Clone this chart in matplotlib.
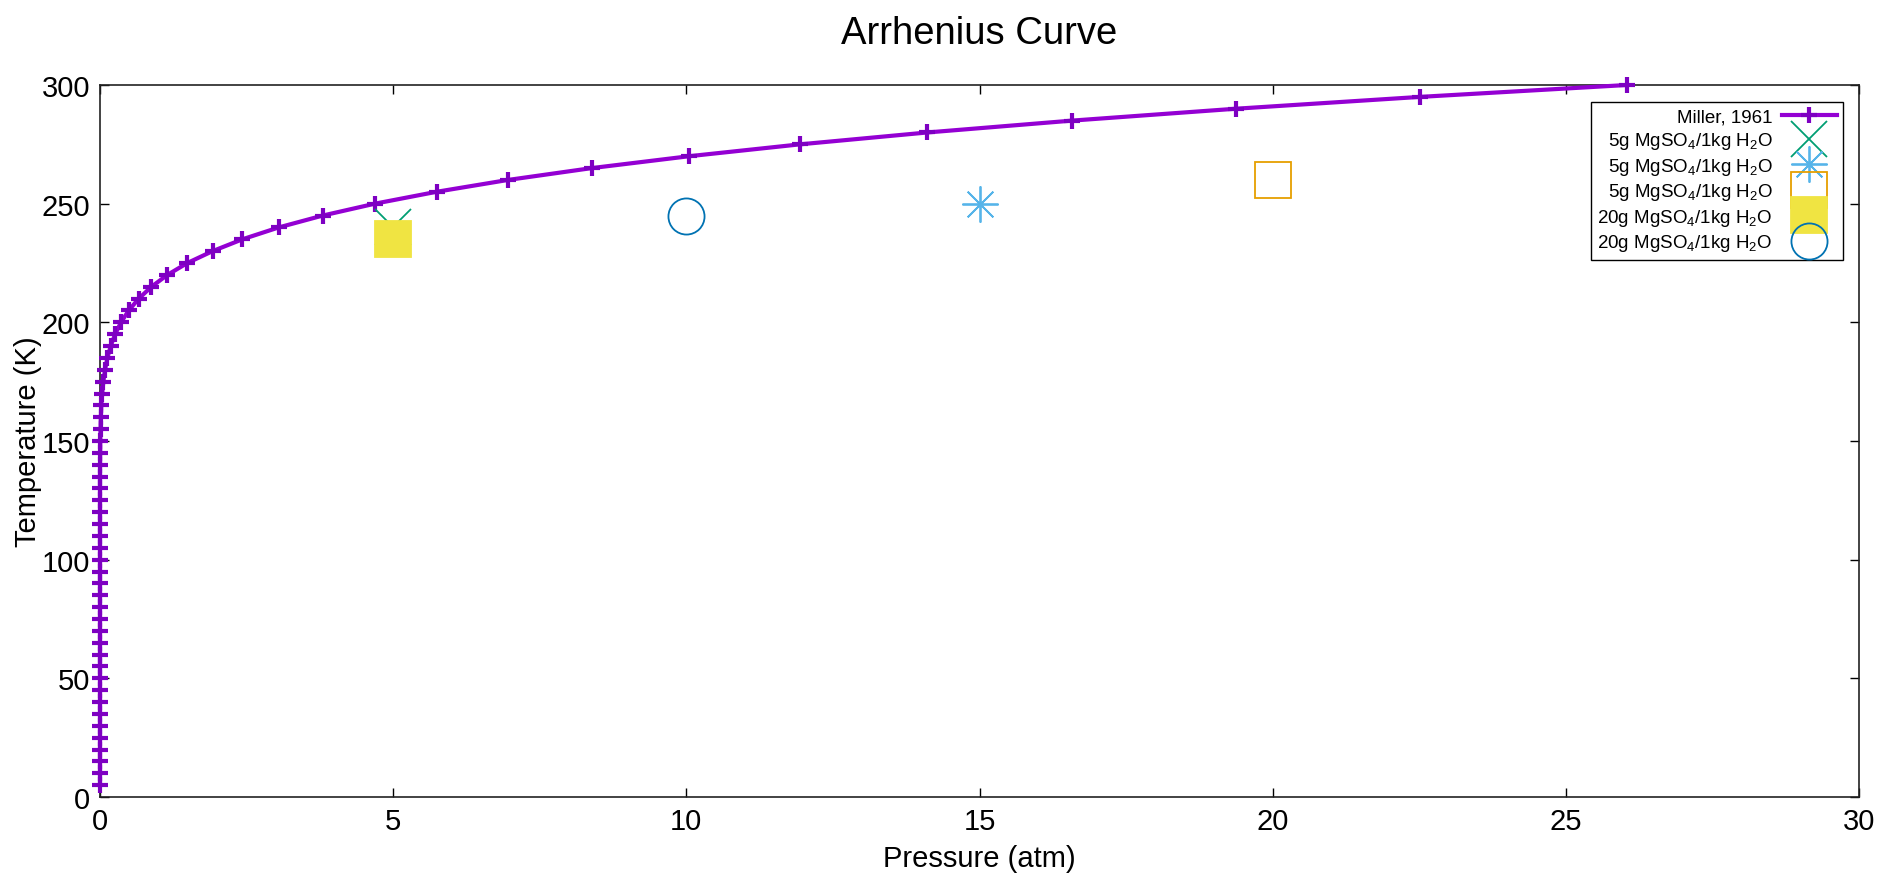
import matplotlib
matplotlib.use("Agg")
import matplotlib.pyplot as plt

# Miller, 1961 vapour curve (temperature in K, pressure in atm)
miller_temp = [5, 10, 15, 20, 25, 30, 35, 40, 45, 50, 55, 60, 65, 70, 75, 80, 85, 90,
               95, 100, 105, 110, 115, 120, 125, 130, 135, 140, 145, 150, 155, 160,
               165, 170, 175, 180, 185, 190, 195, 200, 205, 210, 215, 220, 225, 230,
               235, 240, 245, 250, 255, 260, 265, 270, 275, 280, 285, 290, 295, 300]
miller_pressure = [0.0, 0.0, 0.0, 0.0, 0.0, 0.0, 0.0, 0.0, 0.0, 0.0, 0.0, 0.0, 0.0,
                   0.0, 0.0, 0.0, 0.0, 0.0, 0.0, 0.0, 0.0, 0.0, 0.0, 0.0, 0.0, 0.0,
                   0.0, 0.001, 0.003, 0.005, 0.009, 0.014, 0.023, 0.037, 0.057, 0.086,
                   0.126, 0.182, 0.258, 0.358, 0.490, 0.661, 0.878, 1.15, 1.49, 1.92,
                   2.43, 3.05, 3.80, 4.69, 5.74, 6.96, 8.39, 10.05, 11.94, 14.11,
                   16.58, 19.37, 22.52, 26.04]

# MgSO4 solution measurements
obs_pressure = [5, 15, 20, 5, 10]
obs_temp = [240, 250, 260, 235, 245]
obs_labels = ["5g MgSO$_4$/1kg H$_2$O",
              "5g MgSO$_4$/1kg H$_2$O",
              "5g MgSO$_4$/1kg H$_2$O",
              "20g MgSO$_4$/1kg H$_2$O",
              "20g MgSO$_4$/1kg H$_2$O"]

x_ticks = [0, 5, 10, 15, 20, 25, 30]
y_ticks = [0, 50, 100, 150, 200, 250, 300]

plt.rcParams['font.family'] = ['Liberation Sans', 'DejaVu Sans']
plt.rcParams['mathtext.fontset'] = 'custom'
plt.rcParams['mathtext.rm'] = 'Liberation Sans'
plt.rcParams['mathtext.it'] = 'Liberation Sans:italic'
plt.rcParams['mathtext.default'] = 'regular'

fig = plt.figure(figsize=(19.03, 8.79), dpi=100)
ax = fig.add_axes([100 / 1903, 81 / 879, 1759 / 1903, 712 / 879])

ax.plot(miller_pressure, miller_temp, color='#9400D3', lw=3, marker='+', ms=11,
        mew=3, mec='#7E00C2', clip_on=False, label='Miller, 1961', zorder=3)

# gnuplot-like point types: cross, asterisk, box, filled box, circle
point_styles = [
    dict(marker='x', color='#009E73', mfc='none'),
    dict(marker=(8, 2, 0), color='#56B4E9', mfc='none'),
    dict(marker='s', color='#E69F00', mfc='none'),
    dict(marker='s', color='#F0E442', mfc='#F0E442'),
    dict(marker='o', color='#0072B2', mfc='none'),
]
for px, ty, lab, st in zip(obs_pressure, obs_temp, obs_labels, point_styles):
    ax.plot([px], [ty], linestyle='none', marker=st['marker'], ms=26, mew=1.3,
            mec=st['color'], mfc=st['mfc'], label=lab, zorder=4)

ax.set_xlim(0, 30)
ax.set_ylim(0, 300)
ax.set_xticks(x_ticks)
ax.set_yticks(y_ticks)
ax.tick_params(direction='in', length=6.5, width=1, top=True, right=True,
               labelsize=21, pad=7, colors='black')
for sp in ax.spines.values():
    sp.set_linewidth(1.2)
    sp.set_color('#222222')

ax.set_xlabel('Pressure (atm)', fontsize=21, labelpad=7)
ax.set_ylabel('Temperature (K)', fontsize=21, labelpad=0)
ax.set_title('Arrhenius Curve', fontsize=27.5, pad=30)

leg = ax.legend(loc='upper right', bbox_to_anchor=(0.991, 0.976), markerfirst=False,
                fontsize=13.5, frameon=True, fancybox=False, edgecolor='black',
                framealpha=1, borderaxespad=0, borderpad=0.35, labelspacing=0.24,
                handlelength=2.9, handletextpad=0.5)
leg.get_frame().set_linewidth(1.0)

plt.savefig('out.png', dpi=100)
